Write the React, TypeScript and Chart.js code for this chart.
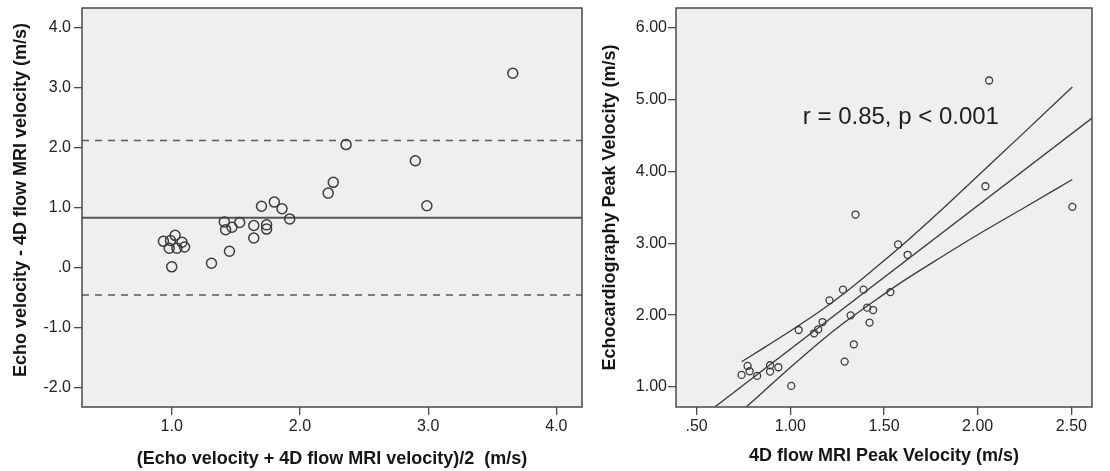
import React, { useEffect, useRef } from "react";
import { Chart, registerables } from "chart.js";

Chart.register(...registerables);

// ---------- Left panel: Bland-Altman ----------
const baMean = [0.935, 0.99, 1.026, 0.98, 1.04, 1.08, 1.1, 1.0, 1.31, 1.45, 1.41, 1.42, 1.47, 1.53, 1.64, 1.64, 1.74, 1.74, 1.7, 1.8, 1.86, 1.92, 2.22, 2.26, 2.36, 2.9, 2.99, 3.66];
const baDiff = [0.435, 0.45, 0.535, 0.32, 0.32, 0.42, 0.34, 0.01, 0.07, 0.27, 0.76, 0.63, 0.67, 0.75, 0.7, 0.49, 0.71, 0.64, 1.02, 1.09, 0.98, 0.81, 1.24, 1.42, 2.05, 1.78, 1.03, 3.24];
const meanDiff = 0.83;
const upperLoA = 2.12;
const lowerLoA = -0.46;
const baXRange = [0.3, 4.2];
const baYRange = [-2.33, 4.33];
const baXTicks = [1, 2, 3, 4];
const baYTicks = [-2, -1, 0, 1, 2, 3, 4];

// ---------- Right panel: correlation ----------
const mriPeak = [1.348, 1.575, 1.626, 1.281, 1.391, 1.534, 1.209, 1.41, 1.442, 1.322, 1.172, 1.149, 1.127, 1.423, 1.045, 1.339, 1.29, 0.772, 0.74, 0.783, 0.823, 0.892, 0.892, 0.936, 1.005, 2.061, 2.041, 2.505];
const echoPeak = [3.402, 2.985, 2.841, 2.355, 2.355, 2.321, 2.206, 2.104, 2.071, 1.997, 1.904, 1.803, 1.747, 1.896, 1.793, 1.594, 1.353, 1.292, 1.167, 1.218, 1.153, 1.302, 1.214, 1.274, 1.014, 5.27, 3.796, 3.509];
const fitX = [0.5, 2.7];
const fitY = [0.526, 4.926];
const ciX = [0.74, 0.85, 1.0, 1.15, 1.29, 1.45, 1.6, 1.8, 2.0, 2.25, 2.505];
const ciUpper = [1.35, 1.53, 1.78, 2.04, 2.31, 2.65, 2.98, 3.45, 3.94, 4.55, 5.18];
const ciLower = [0.66, 0.92, 1.27, 1.61, 1.9, 2.2, 2.47, 2.8, 3.12, 3.5, 3.89];
const corrXRange = [0.39, 2.61];
const corrYRange = [0.72, 6.28];
const corrXTicks = [0.5, 1.0, 1.5, 2.0, 2.5];
const corrYTicks = [1, 2, 3, 4, 5, 6];
const corrLabel = "r = 0.85, p < 0.001";
const corrLabelAt = { x: 1.59, y: 4.75 };

const FAMILY = "'Liberation Sans', Arial, Helvetica, sans-serif";
const tickFont = { family: FAMILY, size: 16 };
const titleFont = { family: FAMILY, size: 18, weight: "bold" as const };

const fmtBA = (v: number) => (v === 0 ? ".0" : v.toFixed(1));
const fmtCorr = (v: number) => (v < 1 ? v.toFixed(2).replace(/^0/, "") : v.toFixed(2));

const framePlugin = {
  id: "frame",
  beforeDraw(chart: any) {
    const { ctx, chartArea } = chart;
    const { left, top, right, bottom } = chartArea;
    ctx.save();
    ctx.fillStyle = "#efefef";
    ctx.fillRect(left, top, right - left, bottom - top);
    ctx.restore();
  },
  afterDraw(chart: any) {
    const { ctx, chartArea } = chart;
    const { left, top, right, bottom } = chartArea;
    ctx.save();
    ctx.strokeStyle = "#4a4a4a";
    ctx.lineWidth = 1.5;
    ctx.strokeRect(left, top, right - left, bottom - top);
    ctx.restore();
  },
};

const labelPlugin = {
  id: "corrLabel",
  afterDatasetsDraw(chart: any) {
    const { ctx, scales } = chart;
    ctx.save();
    ctx.font = `24px ${FAMILY}`;
    ctx.fillStyle = "#1e1e1e";
    ctx.textAlign = "center";
    ctx.textBaseline = "middle";
    ctx.fillText(corrLabel, scales.x.getPixelForValue(corrLabelAt.x), scales.y.getPixelForValue(corrLabelAt.y));
    ctx.restore();
  },
};

function axis(
  range: number[],
  ticks: number[],
  fmt: (v: number) => string,
  title: string,
  isX: boolean,
  size: number,
  tickPad: number,
  titlePad: any
) {
  return {
    type: "linear" as const,
    min: range[0],
    max: range[1],
    afterBuildTicks: (s: any) => {
      s.ticks = ticks.map((v) => ({ value: v }));
    },
    afterFit: (s: any) => {
      if (isX) s.height = size;
      else s.width = size;
      s.paddingTop = 0;
      s.paddingBottom = 0;
      s.paddingLeft = 0;
      s.paddingRight = 0;
    },
    ticks: {
      callback: (v: any) => fmt(Number(v)),
      font: tickFont,
      color: "#222",
      padding: tickPad,
      maxRotation: 0,
      autoSkip: false,
    },
    grid: {
      drawOnChartArea: false,
      drawTicks: true,
      tickLength: 8,
      color: "#4a4a4a",
      lineWidth: 1.3,
    },
    border: { display: false },
    title: {
      display: true,
      text: title,
      font: titleFont,
      color: "#151515",
      padding: titlePad,
    },
  };
}

function lineDs(pts: { x: number; y: number }[], width: number, color: string, dash: number[] = []) {
  return {
    data: pts,
    showLine: true,
    borderColor: color,
    borderWidth: width,
    borderDash: dash,
    pointRadius: 0,
    fill: false,
    tension: 0,
  };
}

function baConfig(): any {
  const pts = baMean.map((x, i) => ({ x, y: baDiff[i] }));
  const hl = (y: number) => [
    { x: baXRange[0], y },
    { x: baXRange[1], y },
  ];
  return {
    type: "scatter",
    data: {
      datasets: [
        {
          data: pts,
          showLine: false,
          pointRadius: 5,
          pointBorderWidth: 1.5,
          pointBorderColor: "#3c3c3c",
          pointBackgroundColor: "rgba(0,0,0,0)",
        },
        lineDs(hl(meanDiff), 2, "#555"),
        lineDs(hl(upperLoA), 1.5, "#5a5a5a", [7, 6]),
        lineDs(hl(lowerLoA), 1.5, "#5a5a5a", [7, 6]),
      ],
    },
    options: {
      responsive: false,
      animation: false,
      events: [],
      layout: { padding: { top: 8, right: 10, left: 0, bottom: 0 } },
      plugins: { legend: { display: false }, tooltip: { enabled: false } },
      scales: {
        x: axis(baXRange, baXTicks, fmtBA, "(Echo velocity + 4D flow MRI velocity)/2  (m/s)", true, 64, 2, { top: 0, bottom: 1 }),
        y: axis(baYRange, baYTicks, fmtBA, "   Echo velocity - 4D flow MRI velocity (m/s)", false, 82, 3, { top: 10, bottom: 0 }),
      },
    },
    plugins: [framePlugin],
  };
}

function corrConfig(): any {
  const pts = mriPeak.map((x, i) => ({ x, y: echoPeak[i] }));
  const fit = fitX.map((x, i) => ({ x, y: fitY[i] }));
  const up = ciX.map((x, i) => ({ x, y: ciUpper[i] }));
  const lo = ciX.map((x, i) => ({ x, y: ciLower[i] }));
  return {
    type: "scatter",
    data: {
      datasets: [
        {
          data: pts,
          showLine: false,
          pointRadius: 3.5,
          pointBorderWidth: 1.3,
          pointBorderColor: "#3c3c3c",
          pointBackgroundColor: "rgba(0,0,0,0)",
        },
        lineDs(fit, 1.3, "#3a3a3a"),
        { ...lineDs(up, 1.3, "#3a3a3a"), cubicInterpolationMode: "monotone" },
        { ...lineDs(lo, 1.3, "#3a3a3a"), cubicInterpolationMode: "monotone" },
      ],
    },
    options: {
      responsive: false,
      animation: false,
      events: [],
      layout: { padding: { top: 8, right: 18, left: 0, bottom: 0 } },
      plugins: { legend: { display: false }, tooltip: { enabled: false } },
      scales: {
        x: axis(corrXRange, corrXTicks, fmtCorr, "4D flow MRI Peak Velocity (m/s)", true, 64, 2, { top: 0, bottom: 4 }),
        y: axis(corrYRange, corrYTicks, fmtCorr, "Echocardiography Peak Velocity (m/s)", false, 84, 1, { top: 7, bottom: 0 }),
      },
    },
    plugins: [framePlugin, labelPlugin],
  };
}

function ChartCanvas({ left, width, build }: { left: number; width: number; build: () => any }) {
  const ref = useRef<HTMLCanvasElement | null>(null);
  useEffect(() => {
    if (!ref.current) return;
    const chart = new Chart(ref.current, build());
    return () => chart.destroy();
  }, [build]);
  return (
    <canvas
      ref={ref}
      width={width}
      height={471}
      style={{ position: "absolute", left, top: 0, width, height: 471, display: "block" }}
    />
  );
}

export default function App() {
  return (
    <div style={{ position: "absolute", left: 0, top: 0, width: 1110, height: 471, background: "#fff", overflow: "hidden" }}>
      <ChartCanvas left={0} width={592} build={baConfig} />
      <ChartCanvas left={592} width={518} build={corrConfig} />
    </div>
  );
}
